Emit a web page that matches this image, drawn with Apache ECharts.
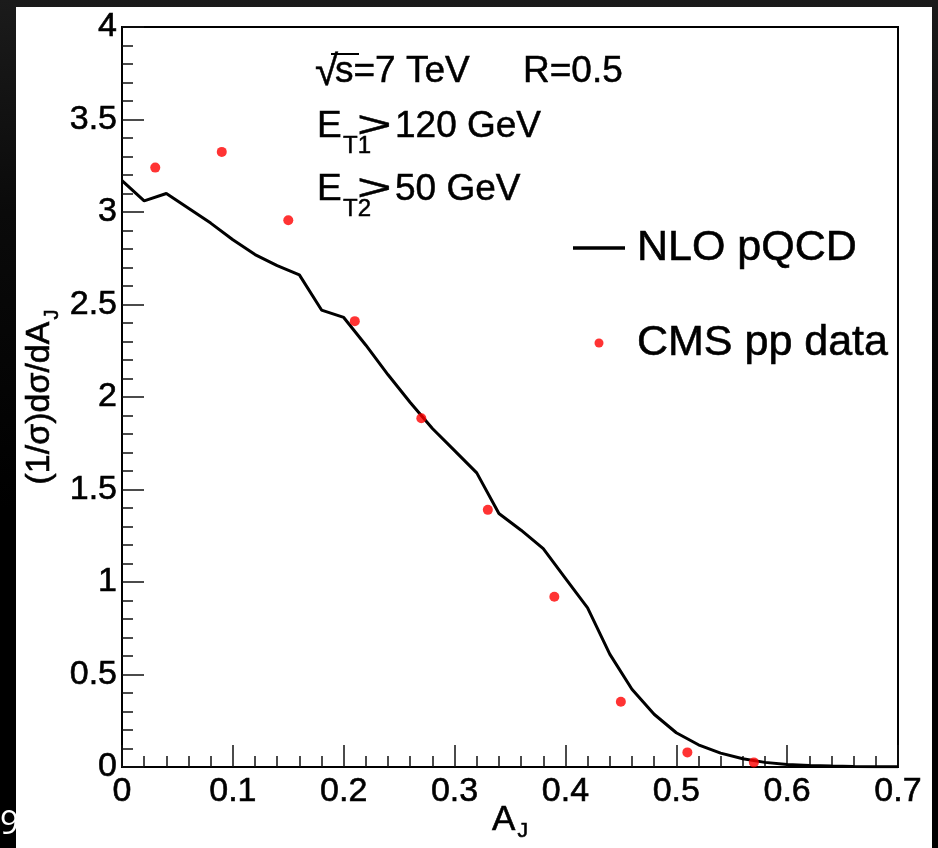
<!DOCTYPE html>
<html><head><meta charset="utf-8">
<script src="https://cdn.jsdelivr.net/npm/echarts@6/dist/echarts.min.js"></script>
<style>
html,body{margin:0;padding:0;width:938px;height:848px;overflow:hidden;background:linear-gradient(180deg,#1b1b1b 0%,#0a0a0a 25%,#000 60%);}
#paper{position:absolute;left:16px;top:7px;width:916px;height:841px;background:#fff;}
#chart{position:absolute;left:0;top:0;width:938px;height:848px;}
</style></head><body>
<div id="paper"></div><div id="chart"></div>
<script>
// NLO pQCD curve
const nloX = [0, 0.02, 0.04, 0.06, 0.08, 0.10, 0.12, 0.14, 0.16, 0.18, 0.20, 0.22, 0.24, 0.26, 0.28, 0.30, 0.32, 0.34, 0.36, 0.38, 0.40, 0.42, 0.44, 0.46, 0.48, 0.50, 0.52, 0.54, 0.56, 0.58, 0.60, 0.62, 0.64, 0.66, 0.68, 0.70];
const nloY = [3.17, 3.06, 3.10, 3.02, 2.94, 2.85, 2.77, 2.71, 2.66, 2.47, 2.43, 2.28, 2.12, 1.97, 1.83, 1.71, 1.59, 1.37, 1.28, 1.18, 1.02, 0.86, 0.61, 0.42, 0.285, 0.185, 0.12, 0.075, 0.045, 0.025, 0.014, 0.008, 0.005, 0.003, 0.002, 0.001];
// CMS pp data points
const cmsX = [0.03, 0.09, 0.15, 0.21, 0.27, 0.33, 0.39, 0.45, 0.51, 0.57];
const cmsY = [3.24, 3.325, 2.955, 2.41, 1.885, 1.39, 0.92, 0.353, 0.079, 0.025];
// axis ranges [min, max, interval]
const xRange = [0, 0.7, 0.1];
const yRange = [0, 4, 0.5];
const seriesNames = ['NLO pQCD', 'CMS pp data'];

const FF = '"Liberation Sans", Arial, Helvetica, sans-serif';
const HEAVY = { textBorderColor: '#000', textBorderWidth: 0.6 };

// annotation text layout: [text, x, baselineY, fontSize, scaleX]
const notes = [
  ['√', 315, 88, 42, 1],
  ['s=7 TeV', 335, 85, 37, 1],
  ['R=0.5', 523, 85, 37, 1],
  ['E', 317, 140, 37, 1],
  ['T1', 343, 155, 24, 1],
  ['>', 357, 140, 37, 1.6],
  ['120 GeV', 395, 140, 37, 1],
  ['E', 317, 203, 37, 1],
  ['T2', 343, 218, 24, 1],
  ['>', 357, 203, 37, 1.6],
  ['50 GeV', 395, 203, 37, 1]
];

const graphics = notes.map(n => ({
  type: 'text', x: n[1], y: n[2] - 0.35 * n[3], scaleX: n[4], z: 10,
  style: { text: n[0], fontSize: n[3], fontFamily: FF, fill: '#000', verticalAlign: 'middle', textAlign: 'left', stroke: '#000', lineWidth: 0.5 }
}));
// overline of the square root
graphics.push({ type: 'line', z: 10, shape: { x1: 331, y1: 54, x2: 359, y2: 54 }, style: { stroke: '#000', lineWidth: 2 } });
graphics.push({
  type: 'text', x: 0, y: 836 - 0.35 * 33, z: 10,
  style: { text: '9', fontSize: 33, fontFamily: '"Open Sans", "DejaVu Sans", sans-serif', fill: '#fff', verticalAlign: 'middle' }
});

const tickStyle = { color: '#111', width: 1.5 };
function axisCommon(range) {
  return {
    type: 'value', min: range[0], max: range[1], interval: range[2],
    nameMoveOverlap: false,
    axisLine: { show: true, onZero: false, lineStyle: { color: '#000', width: 2 } },
    axisTick: { show: true, inside: true, length: 22, lineStyle: tickStyle },
    minorTick: { show: true, splitNumber: 5, length: 11, lineStyle: tickStyle },
    splitLine: { show: false },
    minorSplitLine: { show: false }
  };
}

const chart = echarts.init(document.getElementById('chart'), null, { renderer: 'canvas' });
chart.setOption({
  animation: false,
  backgroundColor: 'transparent',
  grid: { left: 122, top: 27, right: 40, bottom: 81, containLabel: false, outerBoundsMode: 'none', show: true, borderColor: '#000', borderWidth: 2, backgroundColor: 'transparent' },
  xAxis: Object.assign(axisCommon(xRange), {
    axisLabel: Object.assign({ fontSize: 34, color: '#000', margin: 8, fontFamily: FF }, HEAVY),
    name: '{m|A}{j|J}', nameLocation: 'middle', nameGap: 36,
    nameTextStyle: { rich: {
      m: Object.assign({ fontSize: 35, fontFamily: FF, color: '#000', lineHeight: 35, verticalAlign: 'top' }, HEAVY),
      j: Object.assign({ fontSize: 21, fontFamily: FF, color: '#000', padding: [18, 0, 0, 2], verticalAlign: 'top' }, HEAVY)
    } }
  }),
  yAxis: Object.assign(axisCommon(yRange), {
    axisLabel: Object.assign({ fontSize: 34, color: '#000', margin: 5, fontFamily: FF }, HEAVY),
    name: '{m|(1/σ)dσ/dA}{j|J}', nameLocation: 'middle', nameGap: 60,
    nameTextStyle: { rich: {
      m: Object.assign({ fontSize: 34, fontFamily: FF, color: '#000', lineHeight: 34, verticalAlign: 'top' }, HEAVY),
      j: Object.assign({ fontSize: 20, fontFamily: FF, color: '#000', padding: [19, 0, 0, 2], verticalAlign: 'top' }, HEAVY)
    } }
  }),
  legend: {
    data: [
      { name: seriesNames[0], icon: 'path://M0,0 L52,0 L52,3.5 L0,3.5 Z', itemStyle: { color: '#000' } },
      { name: seriesNames[1], icon: 'circle' }
    ],
    orient: 'vertical', left: 573, top: 224, padding: 0,
    itemWidth: 52, itemHeight: 9, itemGap: 47, selectedMode: false,
    textStyle: Object.assign({ fontSize: 43, color: '#000', fontFamily: FF, lineHeight: 48, padding: [0, 0, 0, 7] }, HEAVY)
  },
  graphic: graphics,
  series: [
    {
      name: seriesNames[0], type: 'line', symbol: 'none', showSymbol: false, z: 3,
      data: nloX.map((x, i) => [x, nloY[i]]),
      lineStyle: { color: '#000', width: 3 }, itemStyle: { color: '#000' }
    },
    {
      name: seriesNames[1], type: 'scatter', symbol: 'circle', symbolSize: 10, z: 4,
      data: cmsX.map((x, i) => [x, cmsY[i]]),
      itemStyle: { color: '#ff0000' }
    }
  ]
});
</script>
</body></html>
